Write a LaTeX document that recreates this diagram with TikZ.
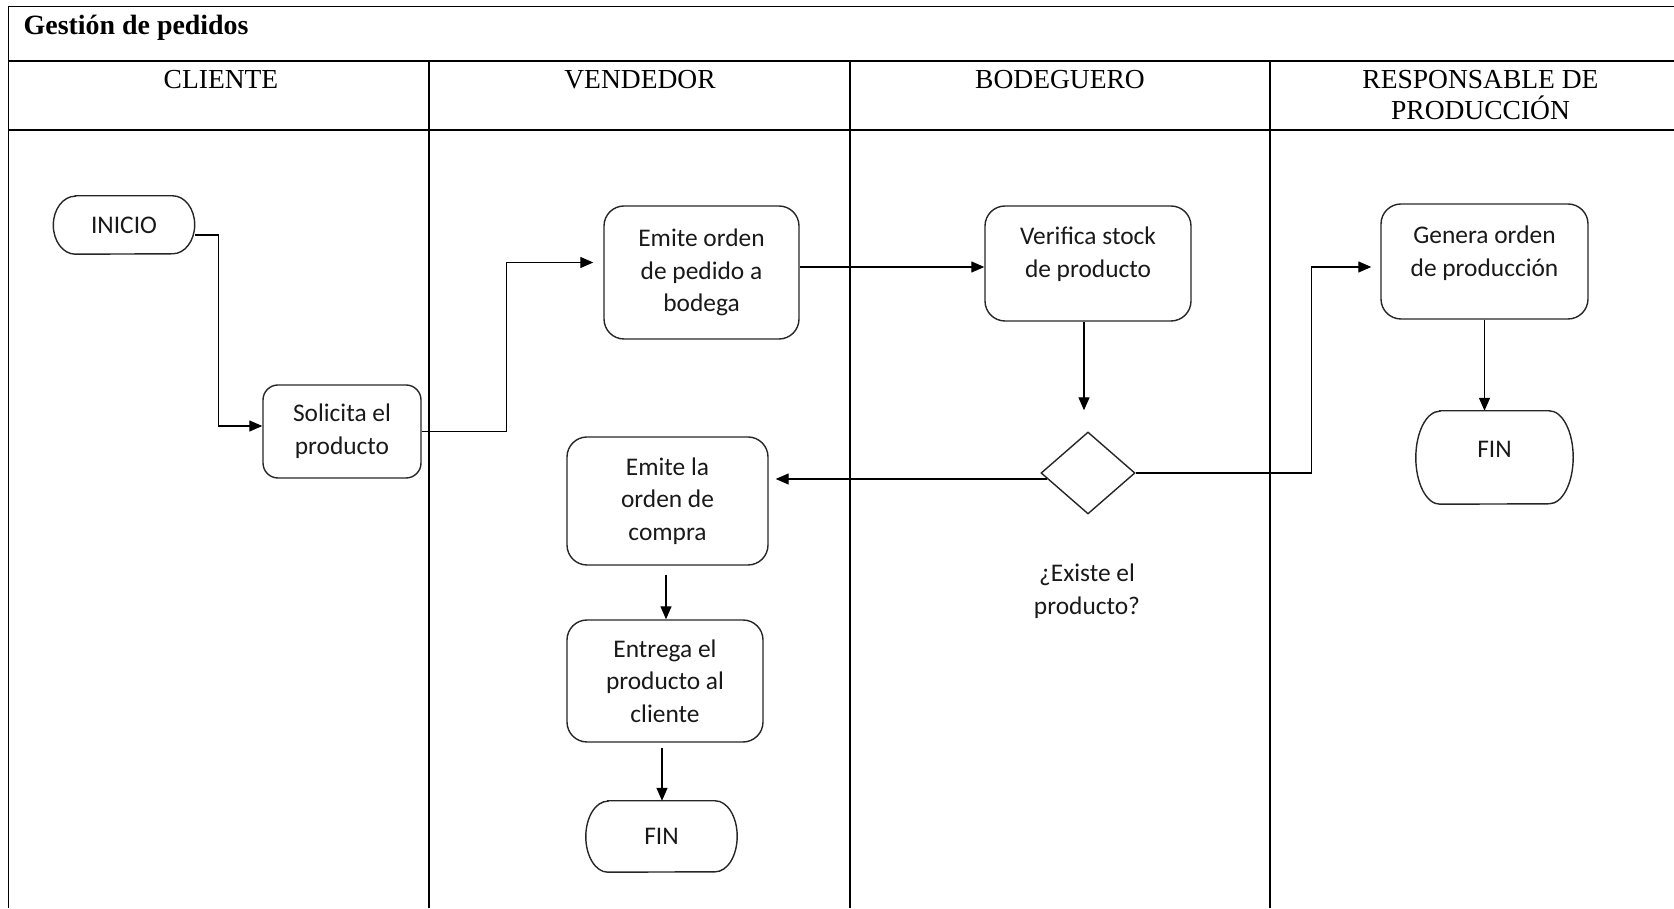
\documentclass[tikz,border=0pt]{standalone}
\usepackage{fontspec}
\setmainfont{Liberation Serif}
\newfontfamily\bodyfont{Carlito}
\usetikzlibrary{arrows.meta,calc,shapes.geometric}

% outline of a terminal (start/end) node: straight top and bottom, elliptic ends
\newcommand\termoutline[3]{%
  \draw[edge] ($(#1.north west)+(#2,0)$) -- ($(#1.north east)+(-#2,0)$)
    arc[start angle=90, end angle=-90, x radius=#2, y radius=#3]
    -- ($(#1.south west)+(#2,0)$)
    arc[start angle=270, end angle=90, x radius=#2, y radius=#3] -- cycle;}

\begin{document}
\begin{tikzpicture}[x=1pt,y=1pt,
  frame/.style={line width=1.6pt, draw=black},
  edge/.style={line width=1.4pt, draw=black!85},
  arr/.style={line width=1.3pt, draw=black, -{Triangle[length=13pt,width=11pt]}},
  txt/.style={inner sep=0pt, align=center, text=black!90,
    font=\bodyfont\fontsize{25.4}{32.6}\selectfont},
  proc/.style={txt, edge, rounded corners=20pt},
  term/.style={txt},
  lanehead/.style={inner sep=0pt, align=center, font=\fontsize{27.5}{31}\selectfont},
]
\useasboundingbox (0,0) rectangle (1674,908);

% pool frame, title band and lane header band
\draw[frame] (8.5,0) -- (8.5,901.6) -- (1674,901.6);
\draw[frame] (8.5,847) -- (1674,847);
\draw[frame] (8.5,778) -- (1674,778);
\draw[frame] (429,0) -- (429,847);
\draw[frame] (850,0) -- (850,847);
\draw[frame] (1270,0) -- (1270,847);

\node[anchor=base west, inner sep=0pt, font=\bfseries\fontsize{27.9}{30}\selectfont]
  (title) at (23.5,873) {Gestión de pedidos};

\node[lanehead, anchor=base] (hcli) at (221,819.4) {CLIENTE};
\node[lanehead, anchor=base] (hven) at (640,819.4) {VENDEDOR};
\node[lanehead, anchor=base] (hbod) at (1060,819.4) {BODEGUERO};
\node[lanehead] (hres) at (1480.5,813) {RESPONSABLE DE\\PRODUCCIÓN};

% CLIENTE
\node[term, minimum width=141, minimum height=58] (ini) at (124,683) {INICIO};
\termoutline{ini}{22}{29}
\node[proc, rounded corners=15pt, minimum width=158, minimum height=93]
  (sol) at (342,476.5) {Solicita el\\producto};

% VENDEDOR
\node[proc, minimum width=195, minimum height=133] (emo) at (701.5,635.5)
  {Emite orden\\de pedido a\\bodega};
\node[proc, minimum width=201, minimum height=128] (elo) at (667.5,407)
  {Emite la\\orden de\\compra};
\node[proc, minimum width=196, minimum height=122] (ent) at (665,227)
  {Entrega el\\producto al\\cliente};
\node[term, minimum width=151, minimum height=71] (fina) at (661.5,71.5) {FIN};
\termoutline{fina}{22}{35.5}

% BODEGUERO
\node[proc, minimum width=206, minimum height=115] (ver) at (1088,644.5) {};
\node[txt] (vertxt) at ($(ver.center)+(0,9)$) {Verifica stock\\de producto};
\node[diamond, edge, minimum width=94, minimum height=82, inner sep=0pt]
  (dia) at (1088,435) {};
\node[txt] (diatxt) at (1087,317) {¿Existe el\\producto?};

% RESPONSABLE DE PRODUCCION
\node[proc, minimum width=207, minimum height=115] (gen) at (1484.5,646.5) {};
\node[txt] (gentxt) at ($(gen.center)+(0,8)$) {Genera orden\\de producción};
\node[term, minimum width=157, minimum height=93] (finb) at (1494.5,450.5) {};
\termoutline{finb}{24}{46.5}
\node[txt] (finbtxt) at ($(finb.center)+(0,8)$) {FIN};

% flow
\draw[arr] ($(ini.east)+(0,-10)$) -- ++(24,0) |- ($(sol.west)+(0,5.5)$);
\draw[arr] (sol.east) -- ++(85,0) |- ($(emo.west)+(-10,10)$);
\draw[arr] ($(emo.east)+(0,5.5)$) -- ($(ver.west)+(0,-3.5)$);
\draw[arr] ($(ver.south)+(-4,0)$) -- ($(dia.north)+(-4,21)$);
\draw[arr] ($(dia.west)+(7,-6)$) -- ($(elo.east)+(7,22)$);
\draw[arr] (dia.east) -- ++(176,0) |- ($(gen.west)+(-9,-5.5)$);
\draw[arr] (gen.south) -- (gen.south |- finb.north);
\draw[arr] ($(elo.south)+(-1.5,-9)$) -- ($(ent.north)+(1,0)$);
\draw[arr] ($(ent.south)+(-3,-5)$) -- ($(fina.north)+(0.5,0)$);
\end{tikzpicture}
\end{document}
